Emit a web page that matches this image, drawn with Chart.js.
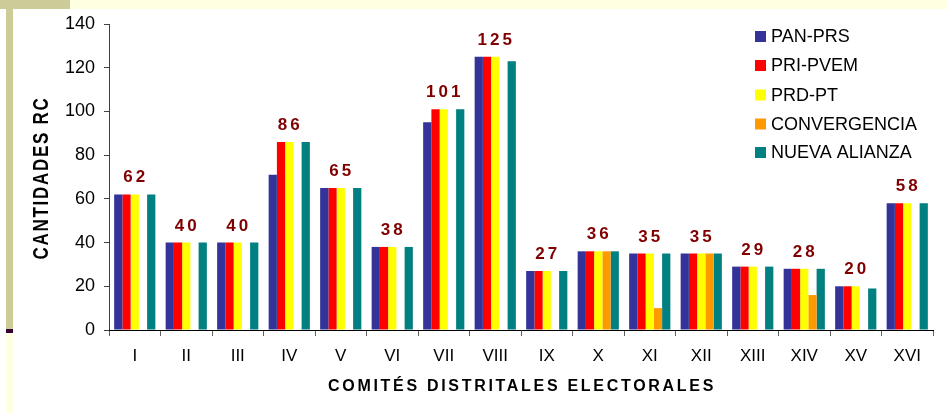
<!DOCTYPE html>
<html>
<head>
<meta charset="utf-8">
<script src="https://cdn.jsdelivr.net/npm/chart.js@4.4.1/dist/chart.umd.min.js"></script>
<style>
  html, body { margin: 0; padding: 0; background: #ffffff; }
  #wrap { width: 948px; height: 413px; position: relative; }
</style>
</head>
<body>
<div id="wrap"><canvas id="rcChart" width="948" height="413"></canvas></div>
<script>
var comites = ['I', 'II', 'III', 'IV', 'V', 'VI', 'VII', 'VIII', 'IX', 'X', 'XI', 'XII', 'XIII', 'XIV', 'XV', 'XVI'];
var panPrs      = [62, 40, 40, 71, 65, 38, 95, 125, 27, 36, 35, 35, 29, 28, 20, 58];
var priPvem     = [62, 40, 40, 86, 65, 38, 101, 125, 27, 36, 35, 35, 29, 28, 20, 58];
var prdPt       = [62, 40, 40, 86, 65, 38, 101, 125, 27, 36, 35, 35, 29, 28, 20, 58];
var convergencia = [0, 0, 0, 0, 0, 0, 0, 0, 0, 36, 10, 35, 0, 16, 0, 0];
var nuevaAlianza = [62, 40, 40, 86, 65, 38, 101, 123, 27, 36, 35, 35, 29, 28, 19, 58];
var yTicks = [0, 20, 40, 60, 80, 100, 120, 140];

var FONT = '"Liberation Sans", Arial, sans-serif';

// page decoration, legend, axis titles and value labels
var decor = {
    id: 'decor',
    beforeDraw: function (chart) {
        var c = chart.ctx;
        c.save();
        c.fillStyle = '#ffffff';
        c.fillRect(0, 0, 948, 413);
        c.fillStyle = '#ffffe1';
        c.fillRect(0, 0, 948, 9);
        c.fillRect(6, 333, 7, 80);
        c.fillStyle = '#cccc99';
        c.fillRect(0, 0, 70, 9);
        c.fillRect(6, 0, 7, 329);
        c.fillStyle = '#330033';
        c.fillRect(6, 329, 7, 4);
        c.restore();
    },
    afterDatasetsDraw: function (chart) {
        var c = chart.ctx;
        var x = chart.scales.x, y = chart.scales.y;
        c.save();
        // value labels above each group
        c.font = 'bold 17px ' + FONT;
        c.fillStyle = '#800000';
        c.textAlign = 'center';
        c.textBaseline = 'alphabetic';
        c.letterSpacing = '3px';
        comites.forEach(function (cat, i) {
            var v = Math.max(panPrs[i], priPvem[i], prdPt[i], convergencia[i], nuevaAlianza[i]);
            c.fillText(String(priPvem[i]), x.getPixelForValue(i) + 1, y.getPixelForValue(v) - 12);
        });
        // axis titles
        c.fillStyle = '#000000';
        c.font = 'bold 16px ' + FONT;
        c.letterSpacing = '2.7px';
        c.textBaseline = 'middle';
        c.fillText('COMITÉS DISTRITALES ELECTORALES', 522, 387);
        c.save();
        c.translate(42, 178);
        c.rotate(-Math.PI / 2);
        c.scale(1, 1.25);
        c.font = 'bold 17px ' + FONT;
        c.letterSpacing = '1.7px';
        c.fillText('CANTIDADES RC', 0, 0);
        c.restore();
        // legend
        c.letterSpacing = '0px';
        c.textAlign = 'left';
        c.font = '18px ' + FONT;
        var rows = [36.5, 65.5, 95, 124, 152.5];
        chart.data.datasets.forEach(function (ds, k) {
            c.fillStyle = ds.backgroundColor;
            c.fillRect(755, rows[k] - 5.5, 11, 11);
            c.fillStyle = '#000000';
            c.fillText(ds.label, 771, rows[k] + 1);
        });
        c.restore();
    }
};

var ctx = document.getElementById('rcChart').getContext('2d');

var myChart = new Chart(ctx, {
    type: 'bar',
    data: {
        labels: comites,
        datasets: [
            { label: 'PAN-PRS', backgroundColor: '#333399', data: panPrs },
            { label: 'PRI-PVEM', backgroundColor: '#ff0000', data: priPvem },
            { label: 'PRD-PT', backgroundColor: '#ffff00', data: prdPt },
            { label: 'CONVERGENCIA', backgroundColor: '#ff9900', data: convergencia },
            { label: 'NUEVA ALIANZA', backgroundColor: '#008080', data: nuevaAlianza }
        ]
    },
    options: {
        responsive: false,
        animation: false,
        categoryPercentage: 0.8,
        barPercentage: 1.0,
        layout: {
            padding: { left: 0, right: 15, top: 24, bottom: 0 }
        },
        plugins: {
            legend: { display: false },
            title: { display: false },
            tooltip: { enabled: false }
        },
        scales: {
            y: {
                min: 0,
                max: 140,
                afterFit: function (s) { s.width = 109; },
                afterBuildTicks: function (s) { s.ticks = yTicks.map(function (v) { return { value: v }; }); },
                ticks: {
                    padding: 9,
                    font: { size: 18, family: FONT },
                    color: '#000000'
                },
                grid: {
                    drawOnChartArea: false,
                    drawTicks: true,
                    tickLength: 5,
                    color: '#404040'
                },
                border: { color: '#404040', width: 1 }
            },
            x: {
                afterFit: function (s) { s.height = 83; },
                ticks: {
                    padding: 10,
                    maxRotation: 0,
                    minRotation: 0,
                    font: { size: 17, family: FONT },
                    color: '#000000'
                },
                grid: {
                    drawOnChartArea: false,
                    drawTicks: true,
                    tickLength: 6,
                    color: '#606060'
                },
                border: { color: '#000000', width: 1 }
            }
        }
    },
    plugins: [decor]
});
</script>
</body>
</html>
